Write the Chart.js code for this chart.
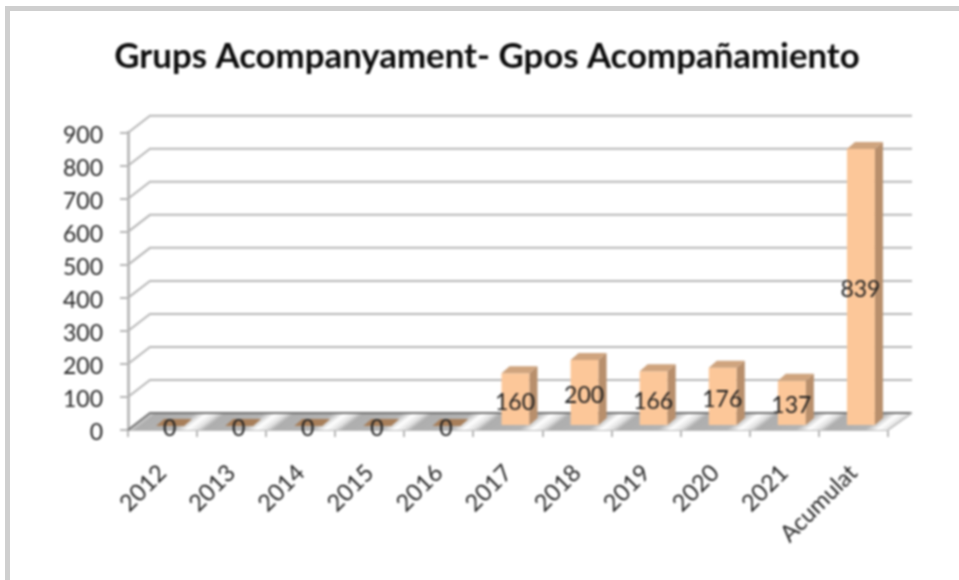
<!DOCTYPE html>
<html><head><meta charset="utf-8">
<style>
html,body{margin:0;padding:0;background:#fff;width:959px;height:580px;overflow:hidden}
#frame{position:absolute;left:5px;top:6px;width:954px;height:574px;box-sizing:border-box;border-left:5px solid #cfcfcf;border-top:5px solid #cfcfcf}
#c{position:absolute;left:0;top:0;filter:blur(0.9px)}
</style>
<script src="https://cdn.jsdelivr.net/npm/chart.js@4"></script>
</head><body>
<div id="frame"></div>
<canvas id="c" width="959" height="580"></canvas>
<script>
const categories=["2012","2013","2014","2015","2016","2017","2018","2019","2020","2021","Acumulat"];
const values=[0,0,0,0,0,160,200,166,176,137,839];
const titleText="Grups Acompanyament- Gpos Acompañamiento";
const yMax=900, yStep=100;

const WALL={dx:22,dxRight:24,dy:-17}, BAR={dx:7.5,dy:-4}, DEPTH={dx:8,dy:-7};
const FONT='Lato, Carlito, sans-serif';

const scene={
  id:'scene',
  beforeDatasetsDraw(chart){
    const {ctx,chartArea:a,scales:{x,y}}=chart;
    ctx.save();
    const y0=y.getPixelForValue(0), n=categories.length, cw=(a.right-a.left)/n;
    ctx.save();
    ctx.beginPath();
    ctx.moveTo(a.left,y0);ctx.lineTo(a.right,y0);
    ctx.lineTo(a.right+WALL.dxRight,y0+WALL.dy);ctx.lineTo(a.left+WALL.dx,y0+WALL.dy);
    ctx.closePath();ctx.clip();
    const k=-WALL.dx/WALL.dy;
    ctx.transform(1,0,-k,1,k*y0,0);
    for(let i=-1;i<=n;i++){
      const l=a.left+i*cw;
      const g=ctx.createLinearGradient(l,0,l+cw,0);
      g.addColorStop(0,'#dcdcdc');g.addColorStop(0.1,'#aeaeae');g.addColorStop(0.66,'#b4b4b4');g.addColorStop(0.84,'#ffffff');g.addColorStop(0.96,'#e8e8e8');g.addColorStop(1,'#dcdcdc');
      ctx.fillStyle=g;ctx.fillRect(l,y0+WALL.dy-1,cw+0.5,-WALL.dy+2);
    }
    ctx.restore();
    ctx.lineWidth=2;
    y.ticks.forEach(t=>{
      const p=y.getPixelForValue(t.value);
      ctx.strokeStyle=t.value===0?'#707070':'#b6b6b6';
      ctx.beginPath();ctx.moveTo(a.left,p);ctx.lineTo(a.left+WALL.dx,p+WALL.dy);ctx.lineTo(a.right+WALL.dxRight,p+WALL.dy);ctx.stroke();
    });
    ctx.strokeStyle='#c4c4c4';
    ctx.beginPath();ctx.moveTo(a.right,y0);ctx.lineTo(a.right+WALL.dxRight,y0+WALL.dy);ctx.stroke();
    ctx.restore();
    ctx.save();
    ctx.translate(BAR.dx,BAR.dy);
  },
  afterDatasetsDraw(chart){
    const {ctx}=chart, meta=chart.getDatasetMeta(0);
    meta.data.forEach((b,i)=>{
      const l=b.x-b.width/2,r=b.x+b.width/2,t=b.y,bs=b.base;
      ctx.fillStyle=values[i]===0?'#a87f5a':'#cfa47e';
      ctx.beginPath();ctx.moveTo(l,t);ctx.lineTo(r,t);ctx.lineTo(r+DEPTH.dx,t+DEPTH.dy);ctx.lineTo(l+DEPTH.dx,t+DEPTH.dy);ctx.closePath();ctx.fill();
      ctx.fillStyle='#b88f6c';
      ctx.beginPath();ctx.moveTo(r,t);ctx.lineTo(r+DEPTH.dx,t+DEPTH.dy);ctx.lineTo(r+DEPTH.dx,bs+DEPTH.dy);ctx.lineTo(r,bs);ctx.closePath();ctx.fill();
    });
    ctx.fillStyle='#1e1e1e';ctx.font='23px '+FONT;ctx.textAlign='center';ctx.textBaseline='middle';
    meta.data.forEach((b,i)=>{
      ctx.fillText(String(values[i]),b.x-0.5,(b.y+b.base)/2+3);
    });
    ctx.restore();
  }
};

new Chart(document.getElementById('c'),{
  type:'bar',
  data:{labels:categories,datasets:[{data:values,backgroundColor:'#fcc799',barPercentage:0.405,categoryPercentage:1}]},
  plugins:[scene],
  options:{
    responsive:false,animation:false,devicePixelRatio:1,
    layout:{padding:{left:15,right:0,top:0,bottom:0}},
    plugins:{legend:{display:false},tooltip:{enabled:false},
      title:{display:true,text:titleText,color:'#0c0c0c',font:{family:FONT,size:34.8,weight:'bold'},padding:{top:36,bottom:55}}},
    scales:{
      x:{offset:true,
        grid:{display:true,drawOnChartArea:false,color:'#b6b6b6',lineWidth:2,tickLength:7,offset:true},
        border:{display:true,color:'#bcbcbc',width:2},
        ticks:{color:'#262626',font:{family:FONT,size:23.5},minRotation:45,maxRotation:45,padding:22,autoSkip:false},
        afterFit(s){s.height=150;s.paddingLeft=0;s.paddingRight=0;}
      },
      y:{min:0,max:yMax,
        grid:{display:true,drawOnChartArea:false,color:'#b6b6b6',lineWidth:2,tickLength:8},
        border:{display:true,color:'#bcbcbc',width:3},
        ticks:{stepSize:yStep,color:'#262626',font:{family:FONT,size:23},padding:17,labelOffset:3},
        afterFit(s){s.width=113;s.paddingTop=0;s.paddingBottom=0;}
      },
      spacer:{position:'right',display:true,grid:{display:false},border:{display:false},ticks:{display:false},
        afterFit(s){s.width=71;}
      }
    }
  }
});
</script>
</body></html>
